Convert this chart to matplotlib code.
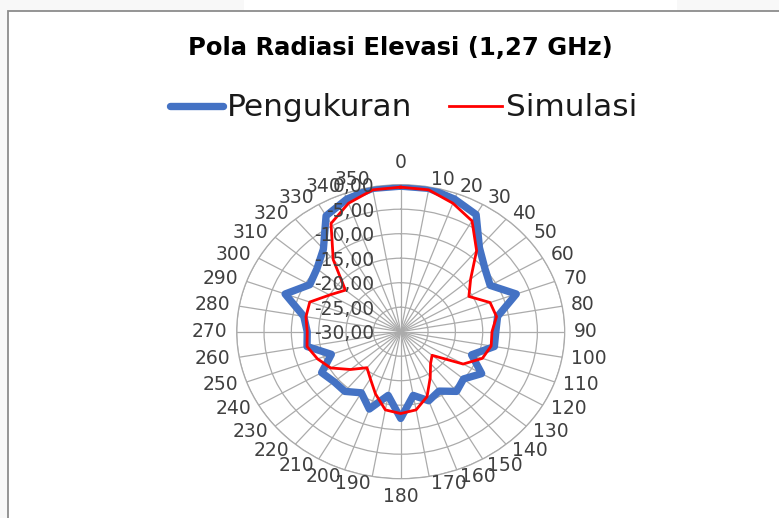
import numpy as np
import matplotlib
matplotlib.use("Agg")
import matplotlib.pyplot as plt
from matplotlib.lines import Line2D
from matplotlib.patches import Rectangle
from matplotlib.transforms import offset_copy

# data (dB)
angles_deg = list(range(0, 360, 10))
pengukuran = [-0.3, -0.3, -1.2, -2.4, -7.6, -9.9, -11.1, -7.5, -12.0, -12.6,
              -12.6, -16.2, -12.9, -15.0, -14.1, -16.0, -15.0, -16.8, -12.3, -16.8,
              -13.2, -15.6, -14.1, -14.1, -13.3, -16.5, -12.6, -12.9, -12.0, -7.5,
              -10.8, -10.0, -8.0, -2.7, -1.2, -0.3]
simulasi = [-0.5, -0.6, -2.1, -3.9, -8.4, -13.3, -15.6, -12.6, -12.2, -13.3,
            -13.2, -14.1, -16.8, -22.5, -21.5, -19.2, -15.9, -13.8, -13.3, -13.8,
            -16.5, -18.9, -20.4, -18.0, -15.2, -13.8, -12.6, -12.9, -12.4, -12.3,
            -15.0, -16.8, -10.8, -4.5, -2.1, -0.6]
r_ticks = [0, -5, -10, -15, -20, -25, -30]
r_tick_labels = ["0,00", "-5,00", "-10,00", "-15,00", "-20,00", "-25,00", "-30,00"]

W, H = 779, 518
fig = plt.figure(figsize=(W / 100, H / 100), dpi=100)
fig.patch.set_facecolor("#f8f8f8")

# top strip has a white piece, then the chart area with its grey frame
fig.add_artist(Rectangle((244 / W, 1 - 11 / H), (677 - 244) / W, 11 / H,
                         transform=fig.transFigure, facecolor="white",
                         edgecolor="none", zorder=-10))
fig.add_artist(Rectangle((8 / W, -0.01), 1.0, 1.01 - 11 / H, transform=fig.transFigure,
                         facecolor="white", edgecolor="#8c8c8c", lw=1.3, zorder=-10))

# polar axes (the reference is stretched sideways, so the circle is an ellipse)
cx, cy, rx, ry = 400.7, 331.7, 164, 147
ax = fig.add_axes([(cx - rx) / W, (H - cy - ry) / H, 2 * rx / W, 2 * ry / H],
                  projection="polar")
ax.set_aspect("auto")
ax.set_facecolor("none")
ax.set_theta_zero_location("N")
ax.set_theta_direction(-1)
ax.set_ylim(-30, 0)
ax.set_thetagrids(angles_deg, labels=[""] * len(angles_deg))
ax.set_rgrids(r_ticks, labels=[""] * len(r_ticks))
ax.grid(True, color="#ababab", lw=0.9)
ax.spines["polar"].set_color("#ababab")
ax.spines["polar"].set_linewidth(0.9)
ax.tick_params(length=0)

theta = np.deg2rad(angles_deg + [angles_deg[0]])
ax.plot(theta, pengukuran + [pengukuran[0]], color="#4472C4", lw=5.3, zorder=3)
ax.plot(theta, simulasi + [simulasi[0]], color="#FF0000", lw=2.0, zorder=4)

# angle labels, hugging the outer ring like Excel does
for a in angles_deg:
    s, c = np.sin(np.deg2rad(a)), np.cos(np.deg2rad(a))
    if a == 0:
        ha, dx, dy = "center", 0, 22
    elif a == 180:
        ha, dx, dy = "center", 0, -18
    else:
        ha = "left" if s > 0 else "right"
        dx, dy = 9 * s, 7.5 * c
    ax.annotate(str(a), xy=(np.deg2rad(a), 0), xytext=(dx, dy),
                textcoords="offset pixels", ha=ha, va="center",
                fontsize=13.5, color="#404040", annotation_clip=False)

# value labels next to the 0 deg spoke
trans = offset_copy(ax.transData, fig=fig, x=-26, y=-2, units="dots")
for v, lab in zip(r_ticks, r_tick_labels):
    ax.text(0, v, lab, transform=trans, ha="right", va="center",
            fontsize=13.5, color="#404040", zorder=5)

fig.text(400 / W, 1 - 48 / H, "Pola Radiasi Elevasi (1,27 GHz)", ha="center",
         va="center", fontsize=17.5, fontweight="bold", color="black")

handles = [Line2D([], [], color="#4472C4", lw=5.3, solid_capstyle="round"),
           Line2D([], [], color="#FF0000", lw=2.0)]
fig.legend(handles, ["Pengukuran", "Simulasi"], loc="center",
           bbox_to_anchor=(403.5 / W, 1 - 108 / H), ncol=2, frameon=False,
           fontsize=22.5, handlelength=1.7, handletextpad=0.1, columnspacing=1.2,
           borderaxespad=0, borderpad=0, labelcolor="#1a1a1a")

fig.savefig("out.png", dpi=100, facecolor=fig.get_facecolor())
